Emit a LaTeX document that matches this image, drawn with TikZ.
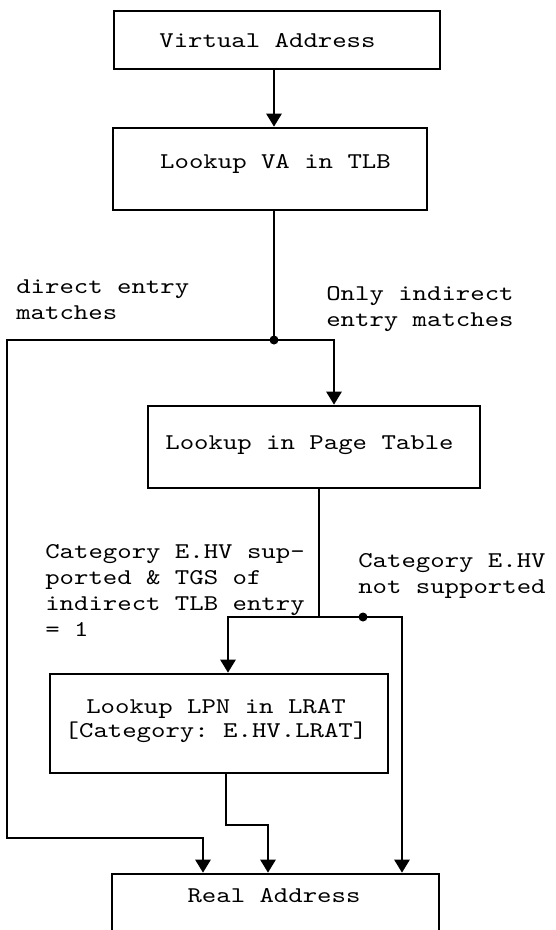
\documentclass[tikz,border=0pt]{standalone}
\usepackage{fontspec}
\setmonofont[FakeStretch=1.22]{lmmono10-regular.otf}
\usetikzlibrary{arrows.meta}
\newcommand\boxfont{\ttfamily\fontsize{22.5}{24}\selectfont\lineskiplimit-1000pt\relax}
\newcommand\condfont{\ttfamily\fontsize{22.5}{26}\selectfont\lineskiplimit-1000pt\relax}

\begin{document}
\begin{tikzpicture}[x=1pt, y=-1pt, line width=2.6pt,
    blk/.style={draw, inner sep=0pt},
    txt/.style={font=\boxfont, anchor=base, inner sep=0pt},
    cond/.style={font=\condfont, anchor=base west, align=left, inner sep=0pt},
    arr/.style={-{Triangle[length=13pt, width=15pt]}}]
  \useasboundingbox (0,0) rectangle (555,930);
  \clip (0,0) rectangle (555,930);

  % boxes
  \node[blk, minimum width=326pt, minimum height=58pt] (va) at (277,40) {};
  \node[blk, minimum width=314pt, minimum height=82pt] (tlb) at (270,169) {};
  \node[blk, minimum width=332pt, minimum height=82pt] (pt) at (314,447) {};
  \node[blk, minimum width=338pt, minimum height=99pt] (lrat) at (219,723.5) {};
  \node[blk, minimum width=327pt, minimum height=120pt] (ra) at (275.5,934) {};

  % box texts
  \node[txt] (vatxt) at (267.5,47) {Virtual Address};
  \node[txt] (tlbtxt) at (275.5,168) {Lookup VA in TLB};
  \node[txt] (pttxt) at (309.5,449) {Lookup in Page Table};
  \node[txt, align=center] (lrattxt) at (216,737) {Lookup LPN in LRAT\\{}[Category: E.HV.LRAT]};
  \node[txt] (ratxt) at (274,902) {Real Address};

  % conditions (placed at the baseline of their last line)
  \node[cond] (direct) at (15,319) {direct entry\\matches};
  \node[cond] (indirect) at (325,326) {Only indirect\\entry matches};
  \node[cond] (hvyes) at (44,636) {Category E.HV sup-\\ported \& TGS of\\indirect TLB entry\\= 1};
  \node[cond] (hvno) at (357,593) {Category E.HV\\not supported};

  % junctions and bends
  \coordinate (j1) at (274,340);
  \coordinate (ji) at (334,340);
  \coordinate (dl) at (7,838);
  \coordinate (da) at (203,838);
  \coordinate (pm) at (319,617);
  \coordinate (pl) at (228,617);
  \coordinate (pr) at (402,617);
  \coordinate (j2) at (363,617);
  \coordinate (lb) at (226,825);
  \coordinate (lc) at (268,825);

  \draw[arr] (va.south -| j1) -- (tlb.north -| j1);
  \draw (tlb.south -| j1) -- (j1);
  \draw[arr] (j1) -| (dl) -- (da) -- (da |- ra.north);
  \draw[arr] (j1) -- (ji) -- (ji |- pt.north);
  \draw (pt.south -| pm) -- (pm);
  \draw[arr] (pm) -- (pl) -- (pl |- lrat.north);
  \draw[arr] (pm) -- (pr) -- (pr |- ra.north);
  \draw[arr] (lrat.south -| lb) -- (lb) -- (lc) -- (lc |- ra.north);
  \fill (j1) circle (4.5pt);
  \fill (j2) circle (4.5pt);
\end{tikzpicture}
\end{document}
